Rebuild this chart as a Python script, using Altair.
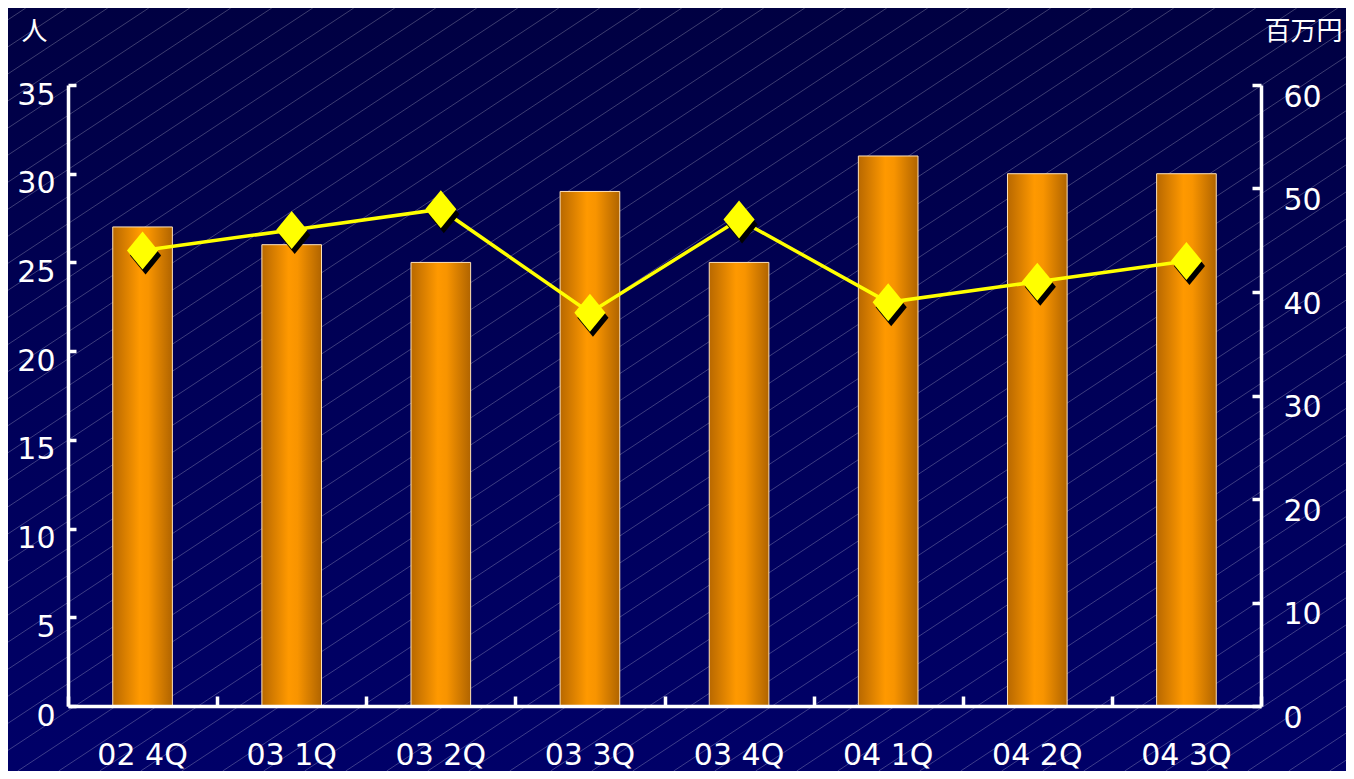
import altair as alt
import pandas as pd

# ---- data ----
quarters = ["02 4Q", "03 1Q", "03 2Q", "03 3Q", "03 4Q", "04 1Q", "04 2Q", "04 3Q"]
people = [27, 26, 25, 29, 25, 31, 30, 30]          # left axis (人)
sales = [44, 46, 48, 38, 47, 39, 41, 43]           # right axis (百万円)
left_ticks = [0, 5, 10, 15, 20, 25, 30, 35]
right_ticks = [0, 10, 20, 30, 40, 50, 60]
left_unit = "人"
right_unit = "百万円"

# ---- layout ----
W, H = 1193, 621
PL, PT, PR, PB = 60, 77, 85, 65

df = pd.DataFrame({"q": quarters, "people": people, "sales": sales})

# decorative background stripes (pattern only, not data)
slope = 0.66
span = (H + PB + PT) / slope
stripe_x0 = [-542.3 + 41 * k for k in range(-20, 60)]
stripes_df = pd.DataFrame({"sx": stripe_x0, "sx2": [v + span for v in stripe_x0]})

xscale = alt.Scale(domain=quarters, paddingInner=0.6, paddingOuter=0.3)
xscale_full = alt.Scale(domain=quarters, paddingInner=0, paddingOuter=0)
ys_people = alt.Scale(domain=[0, 35], nice=False)
ys_sales = alt.Scale(domain=[0, 60], nice=False)

bg_grad = alt.Gradient(
    gradient="linear",
    stops=[alt.GradientStop(color="#000042", offset=0),
           alt.GradientStop(color="#000058", offset=0.5),
           alt.GradientStop(color="#000068", offset=1)],
    x1=0, x2=0, y1=0, y2=1,
)
bar_grad = alt.Gradient(
    gradient="linear",
    stops=[alt.GradientStop(color="#b86800", offset=0),
           alt.GradientStop(color="#ff9900", offset=0.45),
           alt.GradientStop(color="#f89400", offset=0.6),
           alt.GradientStop(color="#b06400", offset=1)],
    x1=0, x2=1, y1=0, y2=0,
)

DIAMOND = "M0,-1L0.82,0L0,1L-0.82,0Z"

background = alt.Chart(pd.DataFrame({"a": [0]})).mark_rect(color=bg_grad).encode(
    x=alt.value(-PL), x2=alt.value(W + PR), y=alt.value(-PT), y2=alt.value(H + PB)
)

stripes = alt.Chart(stripes_df).mark_rule(color="#ffffff", opacity=0.24, strokeWidth=1).encode(
    x=alt.X("sx:Q", scale=None),
    x2="sx2:Q",
    y=alt.value(H + PB),
    y2=alt.value(-PT),
)

base = alt.Chart(df)

bars = base.mark_bar(color=bar_grad, stroke="#ffe2b8", strokeWidth=1).encode(
    x=alt.X("q:N", scale=xscale, sort=quarters,
            axis=alt.Axis(orient="bottom", ticks=False, tickSize=0, labelPadding=49,
                          labelBaseline="middle", labelAngle=0, title=None, zindex=2)),
    y=alt.Y("people:Q", scale=ys_people,
            axis=alt.Axis(orient="left", values=left_ticks, ticks=False, tickSize=0,
                          labelPadding=13, labelOffset=10, title=left_unit, titleAngle=0,
                          titleX=-34, titleY=-54, titleAlign="center",
                          titleBaseline="middle", zindex=2)),
)

# invisible helper layer carrying the inward-pointing tick marks
tick_layer = base.mark_bar(opacity=0).encode(
    x=alt.X("q:N", scale=xscale_full, sort=quarters,
            axis=alt.Axis(orient="top", offset=-H, tickBand="extent", labels=False,
                          domain=False, tickSize=10, title=None, zindex=2)),
    y=alt.Y("people:Q", scale=ys_people,
            axis=alt.Axis(orient="right", offset=-W, values=left_ticks, labels=False,
                          domain=False, tickSize=8, title=None, zindex=2)),
)

line = base.mark_line(color="#ffff00", strokeWidth=3.5).encode(
    x=alt.X("q:N", scale=xscale, sort=quarters, axis=None),
    y=alt.Y("sales:Q", scale=ys_sales,
            axis=alt.Axis(orient="right", values=right_ticks, ticks=False, tickSize=0,
                          labelPadding=22, labelOffset=12, labelAlign="left",
                          title=right_unit, titleAngle=0, titleX=42, titleY=-53.5,
                          titleAlign="center", titleBaseline="middle", zindex=2)),
)

shadow = base.mark_point(shape=DIAMOND, size=1444, filled=True, color="#000000",
                         opacity=1, strokeWidth=0, xOffset=3, yOffset=5).encode(
    x=alt.X("q:N", scale=xscale, sort=quarters, axis=None),
    y=alt.Y("sales:Q", scale=ys_sales,
            axis=alt.Axis(orient="left", offset=-W, values=right_ticks, labels=False,
                          domain=False, tickSize=9, title=None, zindex=2)),
)

diamonds = base.mark_point(shape=DIAMOND, size=1444, filled=True, color="#ffff00",
                           opacity=1, strokeWidth=0).encode(
    x=alt.X("q:N", scale=xscale, sort=quarters, axis=None),
    y=alt.Y("sales:Q", scale=ys_sales, axis=None),
)

chart = alt.layer(
    background, stripes, bars, tick_layer, line, shadow, diamonds
).resolve_scale(
    x="independent", y="independent"
).resolve_axis(
    x="independent", y="independent"
).properties(
    width=W, height=H,
    padding={"left": PL, "top": PT, "right": PR, "bottom": PB},
    autosize=alt.AutoSizeParams(type="none"),
    background="#000050",
).configure_view(
    stroke=None
).configure_axis(
    labelFont="DejaVu Sans", labelFontSize=30, labelColor="#ffffff",
    domainColor="#ffffff", domainWidth=3.5, tickColor="#ffffff", tickWidth=3.5,
    grid=False, titleColor="#ffffff", titleFont="Noto Sans CJK JP",
    titleFontSize=26, titleFontWeight="normal",
)

chart.save("out.html", embed_options={"renderer": "svg", "actions": False})
